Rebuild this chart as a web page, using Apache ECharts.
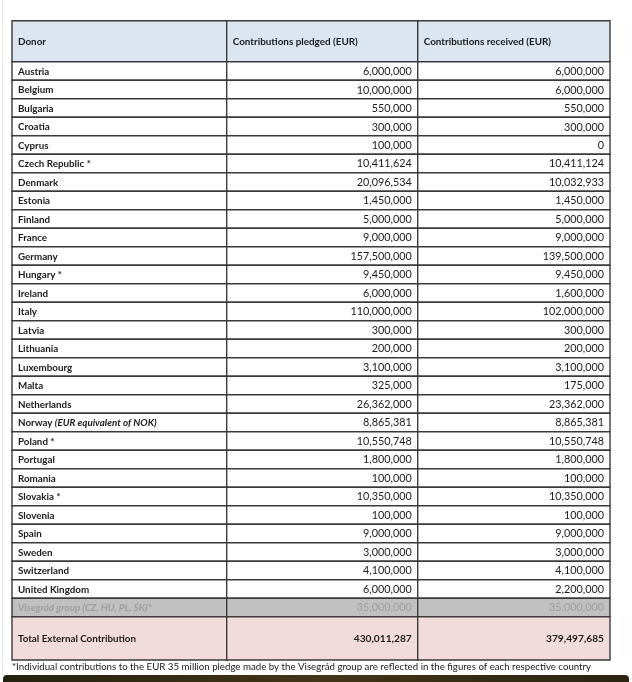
<!DOCTYPE html>
<html><head><meta charset="utf-8">
<script src="https://cdn.jsdelivr.net/npm/echarts@6/dist/echarts.min.js"></script>
<style>html,body{margin:0;padding:0;background:#fff}#c{width:632px;height:682px}</style>
</head><body><div id="c"></div><script>
const headers = ['Donor', 'Contributions pledged (EUR)', 'Contributions received (EUR)'];
const donors = ['Austria','Belgium','Bulgaria','Croatia','Cyprus','Czech Republic *','Denmark','Estonia','Finland','France','Germany','Hungary *','Ireland','Italy','Latvia','Lithuania','Luxembourg','Malta','Netherlands','Norway','Poland *','Portugal','Romania','Slovakia *','Slovenia','Spain','Sweden','Switzerland','United Kingdom'];
const pledged = [6000000,10000000,550000,300000,100000,10411624,20096534,1450000,5000000,9000000,157500000,9450000,6000000,110000000,300000,200000,3100000,325000,26362000,8865381,10550748,1800000,100000,10350000,100000,9000000,3000000,4100000,6000000];
const received = [6000000,6000000,550000,300000,0,10411124,10032933,1450000,5000000,9000000,139500000,9450000,1600000,102000000,300000,200000,3100000,175000,23362000,8865381,10550748,1800000,100000,10350000,100000,9000000,3000000,4100000,2200000];
const noteNorway = '(EUR equivalent of NOK)';
const groupLabel = 'Visegrád group (CZ, HU, PL, SK)*';
const groupPledged = 35000000;
const groupReceived = 35000000;
const totalLabel = 'Total External Contribution';
const totalPledged = 430011287;
const totalReceived = 379497685;
const footnote = '*Individual contributions to the EUR 35 million pledge made by the Visegrád group are reflected in the figures of each respective country';

// layout constants
const FONT = 'Lato';
const colEdges = [0, 214.7, 405.7, 598];
const HEADER_H = 2.22, ROW_H = 1, TOTAL_H = 2.34;
const fmt = v => v.toLocaleString('en-US');

const rows = [];
rows.push({kind:'header', cells: headers, h: HEADER_H});
donors.forEach((d,i) => rows.push({kind:'row', cells:[d, fmt(pledged[i]), fmt(received[i])], h: ROW_H}));
rows.push({kind:'group', cells:[groupLabel, fmt(groupPledged), fmt(groupReceived)], h: ROW_H});
rows.push({kind:'total', cells:[totalLabel, fmt(totalPledged), fmt(totalReceived)], h: TOTAL_H});
let acc = 0;
const data = rows.map((r,i) => { const d = [i, acc, acc + r.h]; acc += r.h; return d; });
const totalUnits = acc;

const bg = {header:'#dce6f1', row:'#ffffff', group:'#c0c0c0', total:'#f2dcdb'};

function renderItem(params, api) {
  const i = api.value(0);
  const r = rows[i];
  const top = api.coord([0, api.value(1)])[1];
  const bot = api.coord([0, api.value(2)])[1];
  const children = [];
  for (let c = 0; c < 3; c++) {
    const x0 = api.coord([colEdges[c], 0])[0];
    const x1 = api.coord([colEdges[c+1], 0])[0];
    children.push({type:'rect', shape:{x:x0, y:top, width:x1-x0, height:bot-top},
      style:{fill:bg[r.kind], stroke:'#3a3a3a', lineWidth:1.4}});
    const ym = (top + bot) / 2 + 0.5;
    let txt = r.cells[c];
    const style = {x: 0, y: ym, verticalAlign:'middle', fontFamily: FONT, fontSize: 9.8, fill:'#1a1a1a'};
    if (r.kind === 'header' || c === 0) { style.x = x0 + 6; style.align = 'left'; style.fontWeight = 'bold'; }
    else { style.x = x1 - 6; style.align = 'right'; style.fontWeight = 'normal'; style.fontSize = 10.8; }
    if (r.kind === 'header') style.fontSize = 9.9;
    if (r.kind === 'total') { style.fontWeight = 'bold'; if (c > 0) style.fontSize = 10.2; }
    if (r.kind === 'group') { style.fill = '#9d9d9d'; if (c === 0) style.fontStyle = 'italic'; }
    if (r.kind === 'row' && c === 0 && txt === 'Norway') {
      style.text = '{b|Norway }{i|' + noteNorway + '}';
      style.rich = {b:{fontFamily:FONT,fontSize:9.8,fontWeight:'bold',fill:'#1a1a1a'}, i:{fontFamily:FONT,fontSize:9.8,fontWeight:'bold',fontStyle:'italic',fill:'#1a1a1a'}};
    } else style.text = txt;
    children.push({type:'text', style});
  }
  return {type:'group', children};
}

const chart = echarts.init(document.getElementById('c'), null, {renderer:'canvas'});
chart.setOption({
  animation:false,
  grid:{left:12, width:598, top:20.7, height:639.3},
  xAxis:{type:'value', min:0, max:598, show:false},
  yAxis:{type:'value', min:0, max:totalUnits, inverse:true, show:false},
  series:[{type:'custom', renderItem, data, clip:false, encode:{x:-1, y:-1}}],
  graphic:[
    {type:'rect', left:2, top:0, shape:{width:1, height:675}, style:{fill:'#e6e6e6'}, silent:true},
    {type:'text', left:12, top:662, style:{text:footnote, fontFamily:FONT, fontSize:9.7, fill:'#1a1a1a'}},
    {type:'rect', left:3, top:675, shape:{width:626, height:10, r:[4,4,0,0]},
      style:{fill:new echarts.graphic.LinearGradient(0,0,1,0,[{offset:0,color:'#24220f'},{offset:0.5,color:'#433517'},{offset:1,color:'#2a2410'}])}}
  ]
});
</script></body></html>
